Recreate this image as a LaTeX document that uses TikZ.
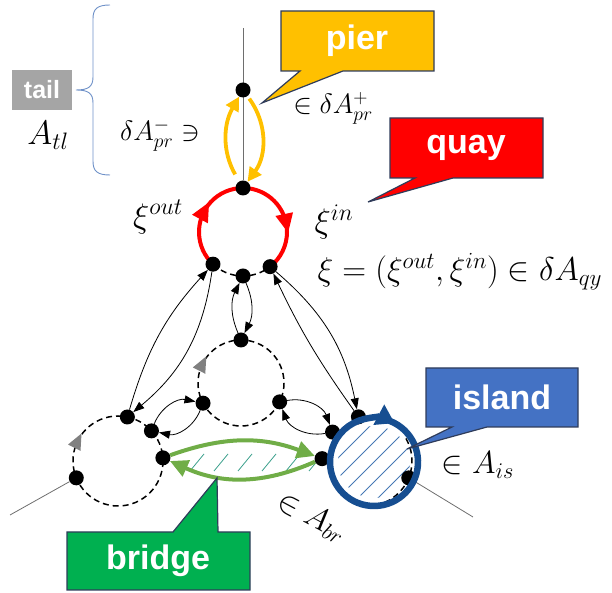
\RequirePackage{fix-cm}
\documentclass[tikz,border=0pt]{standalone}
\usepackage{fontspec}
\newfontfamily\calloutfont{Liberation Sans}
\usetikzlibrary{arrows.meta,decorations.markings}

\definecolor{pieryellow}{RGB}{255,192,0}
\definecolor{quayred}{RGB}{255,0,0}
\definecolor{islandblue}{RGB}{68,114,196}
\definecolor{bridgegreen}{RGB}{0,176,80}
\definecolor{ringblue}{RGB}{22,78,145}
\definecolor{arcgreen}{RGB}{112,173,71}
\definecolor{calloutline}{RGB}{47,60,90}
\definecolor{bracecol}{RGB}{110,145,200}
\definecolor{hatchb}{RGB}{70,120,180}
\definecolor{hatcht}{RGB}{60,160,140}
\definecolor{tailgray}{RGB}{165,165,165}
\definecolor{leadgray}{RGB}{110,110,110}
\definecolor{tipgray}{RGB}{128,128,128}

\pgfdeclarelayer{bg}
\pgfdeclarelayer{front}
\pgfsetlayers{bg,main,front}

\tikzset{
  dot/.style={circle, fill=black, minimum size=15pt, inner sep=0pt},
  conn/.style={draw=black, line width=0.8pt, -{Triangle[length=11pt,width=8pt]}},
  dashring/.style={draw=black, line width=1.5pt, dash pattern=on 6pt off 4pt},
  lead/.style={draw=leadgray, line width=0.8pt},
  pierarrow/.style={draw=pieryellow, line width=3.8pt, -{Triangle[length=14pt,width=14pt]}},
  bridgearrow/.style={draw=arcgreen, line width=4pt, -{Triangle[length=18pt,width=17pt]}},
  callout/.style={draw=calloutline, line width=1.2pt},
  lbl/.style={text=white, font=\calloutfont\bfseries\fontsize{34}{40}\selectfont},
  mathlbl/.style={font=\fontsize{28}{34}\selectfont},
  greytip/.style={postaction={decorate}, decoration={markings,
      mark=at position 0.575 with {\fill[tipgray] (-8pt,-7pt) -- (8pt,0pt) -- (-8pt,7pt) -- cycle;}}},
  redtip/.style={postaction={decorate}, decoration={markings,
      mark=at position 0.55 with {\fill[quayred] (-9pt,-9pt) -- (10pt,0pt) -- (-9pt,9pt) -- cycle;}}}
}

\begin{document}
\begin{tikzpicture}[x=1pt, y=1pt]
\useasboundingbox (0,0) rectangle (612,593);

% ---- circle centres ----
\coordinate (Qc) at (243,361);   % quay
\coordinate (Mc) at (241,210);   % middle cell
\coordinate (Lc) at (118,132);   % left cell
\coordinate (Ic) at (367,132);   % island cell
\coordinate (Rc) at (374,131);   % island ring

% ---- vertices ----
\node[dot] (pT) at (243,503) {};
\path (Qc) ++(90:44pt)  node[dot] (qT) {};
\path (Qc) ++(227:44pt) node[dot] (qL) {};
\path (Qc) ++(270:44pt) node[dot] (qB) {};
\path (Qc) ++(308:44pt) node[dot] (qR) {};
\path (Mc) ++(90:43pt)  node[dot] (mT) {};
\path (Mc) ++(208:43pt) node[dot] (mL) {};
\path (Mc) ++(334:43pt) node[dot] (mR) {};
\path (Lc) ++(78:45pt)  node[dot] (lT) {};
\path (Lc) ++(42:45pt)  node[dot] (lR1) {};
\path (Lc) ++(4:45pt)   node[dot] (lR2) {};
\path (Lc) ++(202:45pt) node[dot] (lL) {};
\path (Ic) ++(101:45pt) node[dot] (iT) {};
\path (Ic) ++(140:45pt) node[dot] (iL) {};
\path (Ic) ++(177:45pt) node[dot] (iL2) {};
\path (Ic) ++(-22:45pt) node[dot] (iR) {};

\coordinate (tailEnd) at (243,565);
\coordinate (leftEnd) at (10,78);
\coordinate (rightEnd) at (473,76);

\begin{pgfonlayer}{bg}
  % free-ending lines
  \draw[lead] (tailEnd) -- (qT);
  \draw[lead] (lL) -- (leftEnd);
  \draw[lead] (iR) -- (rightEnd);

  % dashed cells
  \draw[dashring] (qL) arc[start angle=227, end angle=308, radius=44pt];
  \draw[dashring, greytip] (Mc) ++(0:43pt) arc[start angle=0, end angle=-360, radius=43pt];
  \draw[dashring, greytip] (Lc) ++(0:45pt) arc[start angle=0, end angle=-360, radius=45pt];
  \draw[dashring] (Ic) ++(30:45pt) arc[start angle=30, end angle=-100, radius=45pt];

  % quay boundary (red)
  \draw[quayred, line width=4pt, redtip] (qL) arc[start angle=227, end angle=90, radius=44pt];
  \draw[quayred, line width=4pt, redtip] (qT) arc[start angle=90, end angle=-52, radius=44pt];

  % pier arrows
  \draw[pierarrow, shorten <=8pt] (qT) to[bend left=30] (pT);
  \draw[pierarrow, shorten <=3pt] (pT) to[bend left=36] (qT);

  % island hatching
  \begin{scope}
    \clip (Rc) circle[radius=36pt];
    \foreach \c in {-40,-30,...,40}
      \draw[hatchb, line width=0.8pt] (324+\c,81-\c) -- (424+\c,181-\c);
  \end{scope}

  % bridge hatching
  \foreach \x in {197,221,245,269,293,316}
    \draw[hatcht, line width=0.8pt] (\x-7,122) -- (\x+7,139);

  % bridge arrows
  \draw[bridgearrow] (lR2) to[bend left=20] (iL2);
  \draw[bridgearrow] (iL2) to[bend left=24] (lR2);

  % arcs between cells
  \draw[conn] (lT) to[bend left=13] (qL);
  \draw[conn] (qL) to[bend left=21] (lT);
  \draw[conn] (mT) to[bend left=25] (qB);
  \draw[conn] (qB) to[bend left=25] (mT);
  \draw[conn] (qR) to[bend left=19] (iT);
  \draw[conn] (iT) to[bend left=5] (qR);
  \draw[conn] (lR1) to[bend left=40] (mL);
  \draw[conn] (mL) to[bend left=40] (lR1);
  \draw[conn] (mR) to[bend left=40] (iL);
  \draw[conn] (iL) to[bend left=40] (mR);
\end{pgfonlayer}

\begin{pgfonlayer}{front}
  % island ring
  \draw[ringblue, line width=6.5pt, -{Triangle[length=18pt,width=22pt]}]
    (Rc) ++(80:44pt) arc[start angle=80, end angle=-298, radius=44pt];

  % callouts
  \draw[callout, fill=pieryellow] (281,582) -- (434,582) -- (434,522) -- (343,522)
    -- (262,490) -- (300,522) -- (281,522) -- cycle;
  \node[lbl] (pierlbl) at (357,552) {pier};

  \draw[callout, fill=quayred] (390,475) -- (543,475) -- (543,415) -- (453,415)
    -- (368,391) -- (415,415) -- (390,415) -- cycle;
  \node[lbl] (quaylbl) at (466,445) {quay};

  \draw[callout, fill=islandblue] (426,225) -- (578,225) -- (578,166) -- (487,166)
    -- (407,144) -- (452,166) -- (426,166) -- cycle;
  \node[lbl] (islandlbl) at (502,196) {island};

  \draw[callout, fill=bridgegreen] (67,61) -- (173,61) -- (217,115) -- (218,61)
    -- (250,61) -- (250,3) -- (67,3) -- cycle;
  \node[lbl] (bridgelbl) at (158,32) {bridge};
\end{pgfonlayer}

% tail marker and brace
\fill[tailgray] (12,483) rectangle (72,523);
\node[text=white, font=\calloutfont\bfseries\fontsize{25}{30}\selectfont] (taillbl) at (42,503) {tail};
\draw[bracecol, line width=0.9pt] (110,588) .. controls (97,588) and (93,584) .. (93,574)
  -- (93,516) .. controls (93,506) and (88,503) .. (76,503)
  .. controls (88,503) and (93,500) .. (93,490)
  -- (93,432) .. controls (93,422) and (97,418) .. (110,418);

% mathematical labels
\node[font=\fontsize{34}{40}\selectfont] (Atl) at (48,458) {$A_{tl}$};
\node[mathlbl] (dminus) at (160,458) {$\delta A_{pr}^{-}\ni$};
\node[mathlbl] (dplus) at (333,485) {$\in\delta A_{pr}^{+}$};
\node[font=\fontsize{34}{40}\selectfont] (xiout) at (158,376) {$\xi^{out}$};
\node[font=\fontsize{34}{40}\selectfont] (xiin) at (334,371) {$\xi^{in}$};
\node[font=\fontsize{33}{38}\selectfont, anchor=west] (xidef) at (314,321)
  {$\xi=(\xi^{out},\xi^{in})\in\delta A_{qy}$};
\node[font=\fontsize{32}{38}\selectfont] (inis) at (478,128) {$\in A_{is}$};
\node[font=\fontsize{32}{38}\selectfont, rotate=-28] (inbr) at (312,76) {$\in A_{br}$};
\end{tikzpicture}
\end{document}
